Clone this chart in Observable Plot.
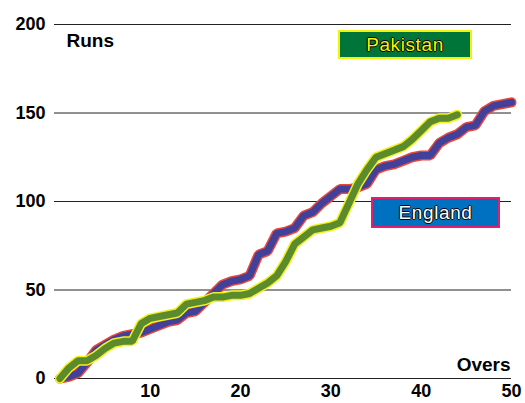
<!DOCTYPE html>
<html>
<head>
<meta charset="utf-8">
<script src="https://cdn.jsdelivr.net/npm/d3@7"></script>
<script src="https://cdn.jsdelivr.net/npm/@observablehq/plot@0.6"></script>
<style>
  html, body { margin: 0; padding: 0; background: #fff; }
  #wrap { position: relative; width: 525px; height: 403px; }
  .key { position: absolute; box-sizing: border-box; display: flex; align-items: center; justify-content: center;
         font-family: "Liberation Sans", Arial, sans-serif; font-size: 19px; letter-spacing: 0.6px; }
  #pak { left: 338px; top: 30px; width: 134px; height: 29px; background: #00753a; border: 2px solid #f2f20c; color: #f5f500;
         text-shadow: -1px 0 #000, 1px 0 #000, 0 -1px #000, 0 1px #000; }
  #eng { left: 371px; top: 197px; width: 129px; height: 31px; background: #0070c0; border: 2px solid #e0206c; color: #fff;
         text-shadow: -1px 0 #000, 1px 0 #000, 0 -1px #000, 0 1px #000; }
</style>
</head>
<body>
<div id="wrap"></div>
<script>
const englandOvers = d3.range(0, 51);
const englandRuns = [0, 1, 3, 9, 16, 19, 22, 24, 25, 26, 28, 30, 32, 33, 37, 38, 43, 48, 53, 55, 56,
  58, 70, 72, 82, 83, 85, 92, 94, 99, 103, 107, 107, 108, 110, 118, 120, 121, 123, 125, 126,
  126, 133, 136, 138, 142, 143, 151, 154, 155, 156];
const pakistanOvers = d3.range(0, 45);
const pakistanRuns = [0, 6, 10, 10, 13, 17, 20, 21, 21, 31, 34, 35, 36, 37, 42, 43, 44, 46, 46, 47, 47,
  48, 51, 54, 58, 66, 76, 80, 84, 85, 86, 88, 99, 110, 118, 125, 127, 129, 131, 135, 140,
  145, 147, 147, 149];
const yTicks = [0, 50, 100, 150, 200];
const xTicks = [10, 20, 30, 40, 50];
const teams = ["Pakistan", "England"];

const england = englandOvers.map((o, i) => ({over: o, runs: englandRuns[i]}));
const pakistan = pakistanOvers.map((o, i) => ({over: o, runs: pakistanRuns[i]}));

const chart = Plot.plot({
  width: 525, height: 403,
  marginLeft: 54, marginRight: 14, marginTop: 24, marginBottom: 25,
  style: {fontFamily: "Liberation Sans, Arial, sans-serif", fontSize: "18px", fontWeight: "bold", color: "#000", background: "#fff"},
  x: {domain: [-0.6, 50], ticks: xTicks, tickSize: 0, tickPadding: 6, label: null},
  y: {domain: [0, 200], ticks: yTicks, tickSize: 0, tickPadding: 9, label: null},
  marks: [
    Plot.ruleY(yTicks, {stroke: "#222", strokeWidth: 1}),
    Plot.line(england, {x: "over", y: "runs", stroke: "#e8483c", strokeWidth: 10, strokeLinejoin: "miter"}),
    Plot.line(england, {x: "over", y: "runs", stroke: "#41419b", strokeWidth: 7, strokeLinejoin: "miter"}),
    Plot.line(pakistan, {x: "over", y: "runs", stroke: "#f2f21e", strokeWidth: 10, strokeLinejoin: "miter"}),
    Plot.line(pakistan, {x: "over", y: "runs", stroke: "#5c8b2d", strokeWidth: 7, strokeLinejoin: "miter"}),
    Plot.text(["Runs"], {frameAnchor: "top-left", dx: 12, dy: 9, fontSize: 19, fontWeight: "bold", textAnchor: "start"}),
    Plot.text(["Overs"], {frameAnchor: "bottom-right", dx: -1, dy: -8, fontSize: 19, fontWeight: "bold", textAnchor: "end"})
  ]
});
const wrap = document.getElementById("wrap");
wrap.appendChild(chart);
const pak = document.createElement("div"); pak.id = "pak"; pak.className = "key"; pak.textContent = teams[0];
const eng = document.createElement("div"); eng.id = "eng"; eng.className = "key"; eng.textContent = teams[1];
wrap.appendChild(pak); wrap.appendChild(eng);
chart.style.position = "absolute"; chart.style.left = "0"; chart.style.top = "0";
</script>
</body>
</html>
